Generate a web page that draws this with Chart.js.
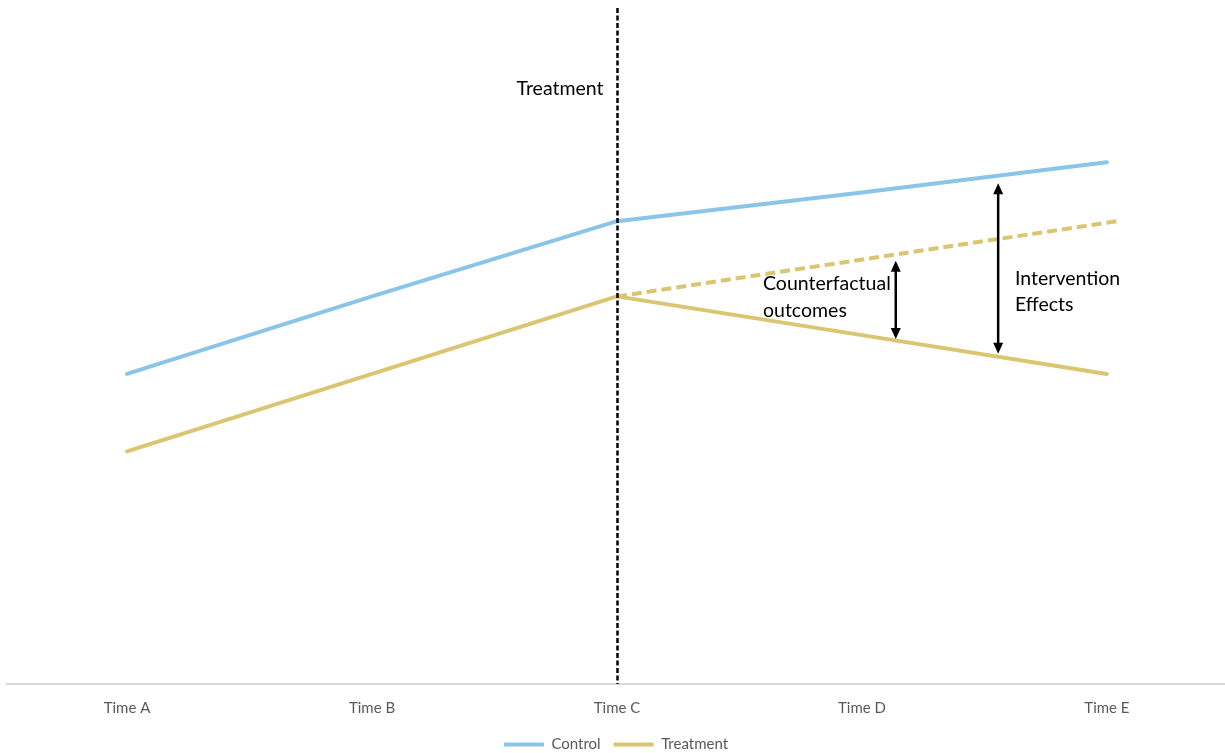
<!DOCTYPE html>
<html>
<head>
<meta charset="utf-8">
<script src="https://cdn.jsdelivr.net/npm/chart.js@4/dist/chart.umd.min.js"></script>
<style>
  html, body { margin: 0; padding: 0; background: #ffffff; }
  #wrap { width: 1225px; height: 753px; position: relative; }
</style>
</head>
<body>
<div id="wrap"><canvas id="chart"></canvas></div>
<script>
// Time points along the horizontal axis
const timeLabels = ['Time A', 'Time B', 'Time C', 'Time D', 'Time E'];

// Observed outcomes per group
const controlValues   = [4, 5, 5.97, 6.34, 6.73];
const treatmentValues = [3, 4, 5, 4.5, 4];

// Counterfactual path of the treated group after treatment (x position, value)
const counterfactualX      = [2, 4.04];
const counterfactualValues = [5, 5.97];

// Moment the treatment starts (index into timeLabels)
const treatmentIndex = 2;

const blue = '#88C5E9';
const gold = '#DAC571';
const fontFamily = 'Lato, "Open Sans", sans-serif';

const toPoints = (xs, ys) => ys.map((y, i) => ({ x: xs[i], y }));
const idx = timeLabels.map((_, i) => i);

// Dashed treatment marker, gap arrows and their captions
const annotations = {
  id: 'annotations',
  afterDatasetsDraw(chart) {
    const { ctx, chartArea, scales: { x, y } } = chart;
    ctx.save();

    // vertical dashed marker at the treatment time
    const tx = Math.round(x.getPixelForValue(treatmentIndex)) + 0.5;
    ctx.strokeStyle = '#000';
    ctx.lineWidth = 2.5;
    ctx.setLineDash([5, 2.5]);
    ctx.beginPath();
    ctx.moveTo(tx, chartArea.top);
    ctx.lineTo(tx, chartArea.bottom);
    ctx.stroke();
    ctx.setLineDash([]);

    // double-headed arrows
    const arrow = (xv, y1, y2) => {
      const px = x.getPixelForValue(xv);
      const top = y.getPixelForValue(y1);
      const bot = y.getPixelForValue(y2);
      const head = 11, half = 5;
      ctx.strokeStyle = '#000';
      ctx.fillStyle = '#000';
      ctx.lineWidth = 2.5;
      ctx.beginPath();
      ctx.moveTo(px, top + head - 1);
      ctx.lineTo(px, bot - head + 1);
      ctx.stroke();
      ctx.beginPath();
      ctx.moveTo(px, top);
      ctx.lineTo(px - half, top + head);
      ctx.lineTo(px + half, top + head);
      ctx.closePath();
      ctx.fill();
      ctx.beginPath();
      ctx.moveTo(px, bot);
      ctx.lineTo(px - half, bot - head);
      ctx.lineTo(px + half, bot - head);
      ctx.closePath();
      ctx.fill();
    };
    arrow(3.138, 5.46, 4.45);
    arrow(3.556, 6.46, 4.26);

    // captions
    ctx.fillStyle = '#000';
    ctx.font = '19.5px ' + fontFamily;
    ctx.textBaseline = 'middle';
    ctx.textAlign = 'right';
    ctx.fillText('Treatment', tx - 14, 89);
    ctx.textAlign = 'left';
    ctx.fillText('Counterfactual', 763, 284);
    ctx.fillText('outcomes', 763, 311);
    ctx.fillText('Intervention', 1015, 279);
    ctx.fillText('Effects', 1015, 305);

    ctx.restore();
  }
};

new Chart(document.getElementById('chart'), {
  type: 'line',
  data: {
    datasets: [
      {
        label: 'Control',
        data: toPoints(idx, controlValues),
        borderColor: blue,
        backgroundColor: blue,
        borderWidth: 4,
        borderCapStyle: 'round',
        borderJoinStyle: 'round',
        pointRadius: 0,
        tension: 0
      },
      {
        label: 'Treatment',
        data: toPoints(idx, treatmentValues),
        borderColor: gold,
        backgroundColor: gold,
        borderWidth: 4,
        borderCapStyle: 'round',
        borderJoinStyle: 'round',
        pointRadius: 0,
        tension: 0
      },
      {
        label: 'Counterfactual',
        data: toPoints(counterfactualX, counterfactualValues),
        borderColor: gold,
        backgroundColor: gold,
        borderWidth: 4,
        borderDash: [10, 5],
        pointRadius: 0,
        tension: 0
      }
    ]
  },
  options: {
    responsive: true,
    maintainAspectRatio: false,
    animation: false,
    layout: { padding: { top: 8, left: 7, right: 0, bottom: -9 } },
    scales: {
      x: {
        type: 'linear',
        min: -0.49,
        max: 4.482,
        grid: { display: false },
        border: { display: true, color: '#D9D9D9', width: 2 },
        ticks: {
          stepSize: 1,
          autoSkip: false,
          maxRotation: 0,
          padding: 7,
          color: '#595959',
          font: { family: fontFamily, size: 15 },
          callback: v => (Number.isInteger(v) ? timeLabels[v] : '')
        },
        afterBuildTicks(axis) {
          axis.ticks = idx.map(v => ({ value: v }));
        }
      },
      y: {
        display: false,
        min: 0,
        max: 8.72
      }
    },
    plugins: {
      tooltip: { enabled: false },
      legend: {
        position: 'bottom',
        labels: {
          boxWidth: 40,
          boxHeight: 4,
          color: '#595959',
          font: { family: fontFamily, size: 15 },
          padding: 13,
          filter: item => item.text !== 'Counterfactual',
          generateLabels(chart) {
            return chart.data.datasets.map((ds, i) => ({
              text: ds.label,
              fillStyle: ds.borderColor,
              strokeStyle: ds.borderColor,
              lineWidth: 0,
              hidden: false,
              datasetIndex: i,
              fontColor: '#595959'
            }));
          }
        }
      }
    }
  },
  plugins: [annotations]
});
</script>
</body>
</html>
